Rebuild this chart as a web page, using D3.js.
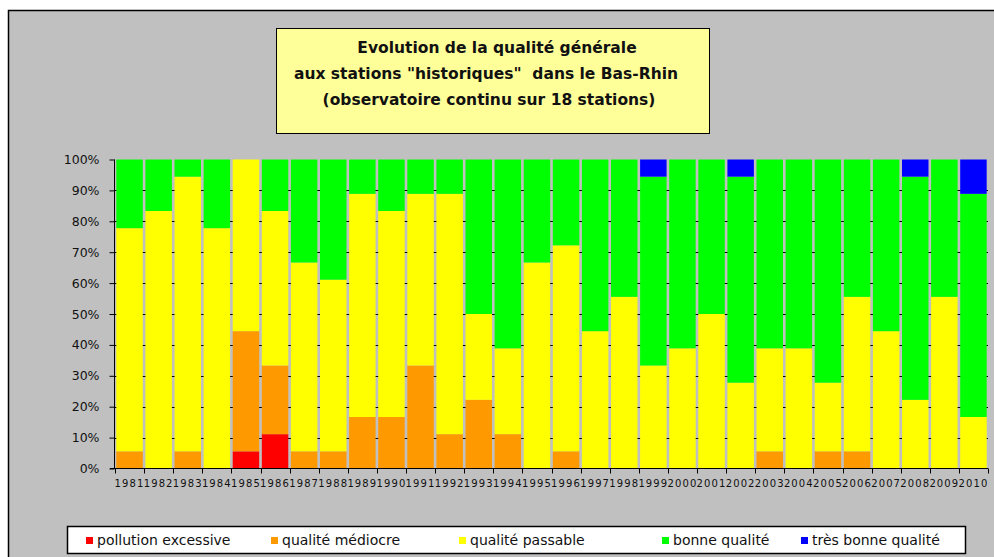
<!DOCTYPE html>
<html>
<head>
<meta charset="utf-8">
<script src="https://cdn.jsdelivr.net/npm/d3@7"></script>
<style>
  html, body { margin: 0; padding: 0; background: #fff; }
  svg { display: block; }
  .axis text { font-family: "DejaVu Sans", Verdana, sans-serif; fill: #111; }
  .title-text { font-family: "DejaVu Sans", Tahoma, sans-serif; font-weight: bold; font-size: 15.5px; fill: #111; }
  .legend-text { font-family: "DejaVu Sans", Tahoma, sans-serif; font-size: 14px; fill: #111; }
</style>
</head>
<body>
<svg id="chart"></svg>
<script>
// Years (categories)
const years = ['1981','1982','1983','1984','1985','1986','1987','1988','1989','1990',
  '1991','1992','1993','1994','1995','1996','1997','1998','1999','2000',
  '2001','2002','2003','2004','2005','2006','2007','2008','2009','2010'];

// Number of stations (out of 18) in each quality class
const pollutionExcessive = [0,0,0,0,1,2,0,0,0,0, 0,0,0,0,0,0,0,0,0,0, 0,0,0,0,0,0,0,0,0,0];
const qualiteMediocre    = [1,0,1,0,7,4,1,1,3,3, 6,2,4,2,0,1,0,0,0,0, 0,0,1,0,1,1,0,0,0,0];
const qualitePassable    = [13,15,16,14,10,9,11,10,13,12, 10,14,5,5,12,12,8,10,6,7, 9,5,6,7,4,9,8,4,10,3];
const bonneQualite       = [4,3,1,4,0,3,6,7,2,3, 2,2,9,11,6,5,10,8,11,11, 9,12,11,11,13,8,10,13,8,13];
const tresBonneQualite   = [0,0,0,0,0,0,0,0,0,0, 0,0,0,0,0,0,0,0,1,0, 0,1,0,0,0,0,0,1,0,2];

const seriesKeys = ['pollution excessive', 'qualité médiocre', 'qualité passable', 'bonne qualité', 'très bonne qualité'];
const seriesColors = ['#ff0000', '#ff9900', '#ffff00', '#00ff00', '#0000ff'];
const yTicks = [0, 0.1, 0.2, 0.3, 0.4, 0.5, 0.6, 0.7, 0.8, 0.9, 1];
const titleLines = ['Evolution de la qualité générale', 'aux stations "historiques"  dans le Bas-Rhin', '(observatoire continu sur 18 stations)'];

// Build table rows for d3.stack (shares of the total)
const seriesValues = [pollutionExcessive, qualiteMediocre, qualitePassable, bonneQualite, tresBonneQualite];
const table = years.map((y, i) => {
  const row = { year: y };
  const total = d3.sum(seriesValues, s => s[i]);
  seriesKeys.forEach((k, j) => { row[k] = seriesValues[j][i] / total; });
  return row;
});

const width = 994, height = 557;
const svg = d3.select('#chart').attr('width', width).attr('height', height);

// Chart area background (Excel grey) with black frame
svg.append('rect')
  .attr('x', 8.5).attr('y', 10.5)
  .attr('width', width).attr('height', height)
  .attr('fill', '#c0c0c0')
  .attr('stroke', '#000').attr('stroke-width', 1.5);

const plot = { left: 115, right: 988, top: 159.5, bottom: 468.5 };

const x = d3.scaleBand()
  .domain(years)
  .range([plot.left, plot.right])
  .paddingInner(0.09)
  .paddingOuter(0.045);

const y = d3.scaleLinear()
  .domain([0, 1])
  .range([plot.bottom, plot.top]);

// Horizontal gridlines (only visible in the gaps between bars)
svg.append('g')
  .selectAll('line')
  .data(yTicks.filter(t => t > 0 && t < 1))
  .join('line')
  .attr('x1', plot.left).attr('x2', plot.right)
  .attr('y1', d => Math.round(y(d)) + 0.5).attr('y2', d => Math.round(y(d)) + 0.5)
  .attr('stroke', '#000').attr('stroke-width', 1);

// Stacked bars
const stacked = d3.stack().keys(seriesKeys)(table);
const color = d3.scaleOrdinal().domain(seriesKeys).range(seriesColors);

svg.append('g')
  .selectAll('g')
  .data(stacked)
  .join('g')
  .attr('fill', d => color(d.key))
  .selectAll('rect')
  .data(d => d.filter(v => v[1] - v[0] > 0))
  .join('rect')
  .attr('x', d => x(d.data.year))
  .attr('width', x.bandwidth())
  .attr('y', d => y(d[1]))
  .attr('height', d => y(d[0]) - y(d[1]));

// Y axis
const yAxis = d3.axisLeft(y)
  .tickValues(yTicks)
  .tickFormat(d3.format('.0%'))
  .tickSize(5)
  .tickPadding(10);

const yAxisG = svg.append('g')
  .attr('class', 'axis y-axis')
  .attr('transform', `translate(${plot.left - 0.5},0)`)
  .call(yAxis);
yAxisG.select('.domain').attr('stroke', '#000').attr('d', `M0,${plot.top}V${plot.bottom}`);
yAxisG.selectAll('.tick line').attr('stroke', '#000');
yAxisG.selectAll('text').style('font-size', '12.5px');

// X axis: baseline, boundary ticks and labels
const xAxisG = svg.append('g').attr('class', 'axis x-axis');
xAxisG.append('line')
  .attr('x1', plot.left - 5).attr('x2', plot.right)
  .attr('y1', plot.bottom).attr('y2', plot.bottom)
  .attr('stroke', '#000');

const step = x.step();
xAxisG.selectAll('.boundary')
  .data(d3.range(years.length + 1))
  .join('line')
  .attr('class', 'boundary')
  .attr('x1', i => Math.round(plot.left + i * step) + 0.5)
  .attr('x2', i => Math.round(plot.left + i * step) + 0.5)
  .attr('y1', plot.bottom).attr('y2', plot.bottom + 5)
  .attr('stroke', '#000');

xAxisG.selectAll('.xlabel')
  .data(years)
  .join('text')
  .attr('class', 'xlabel')
  .attr('x', d => x(d) + x.bandwidth() / 2)
  .attr('y', plot.bottom + 18)
  .attr('text-anchor', 'middle')
  .style('font-size', '10px')
  .style('letter-spacing', '1.1px')
  .text(d => d);

// Title box
svg.append('rect')
  .attr('x', 276.5).attr('y', 28.5)
  .attr('width', 433).attr('height', 105)
  .attr('fill', '#ffff99')
  .attr('stroke', '#000').attr('stroke-width', 1);

const titleX = [497, 486, 489];
svg.append('g')
  .selectAll('text')
  .data(titleLines)
  .join('text')
  .attr('class', 'title-text')
  .attr('x', (d, i) => titleX[i])
  .attr('y', (d, i) => 53 + i * 26)
  .attr('text-anchor', 'middle')
  .attr('xml:space', 'preserve')
  .style('white-space', 'pre')
  .text(d => d);

// Legend
svg.append('rect')
  .attr('x', 67.5).attr('y', 526.5)
  .attr('width', 898).attr('height', 27)
  .attr('fill', '#fff')
  .attr('stroke', '#000').attr('stroke-width', 1.5);

const legendX = [86, 271, 459, 662, 801];
const legendItems = svg.append('g')
  .selectAll('g')
  .data(seriesKeys)
  .join('g')
  .attr('transform', (d, i) => `translate(${legendX[i]},540)`);

legendItems.append('rect')
  .attr('x', 0).attr('y', -3)
  .attr('width', 7).attr('height', 7)
  .attr('fill', d => color(d));

legendItems.append('text')
  .attr('class', 'legend-text')
  .attr('x', 11).attr('y', 5)
  .text(d => d);
</script>
</body>
</html>
